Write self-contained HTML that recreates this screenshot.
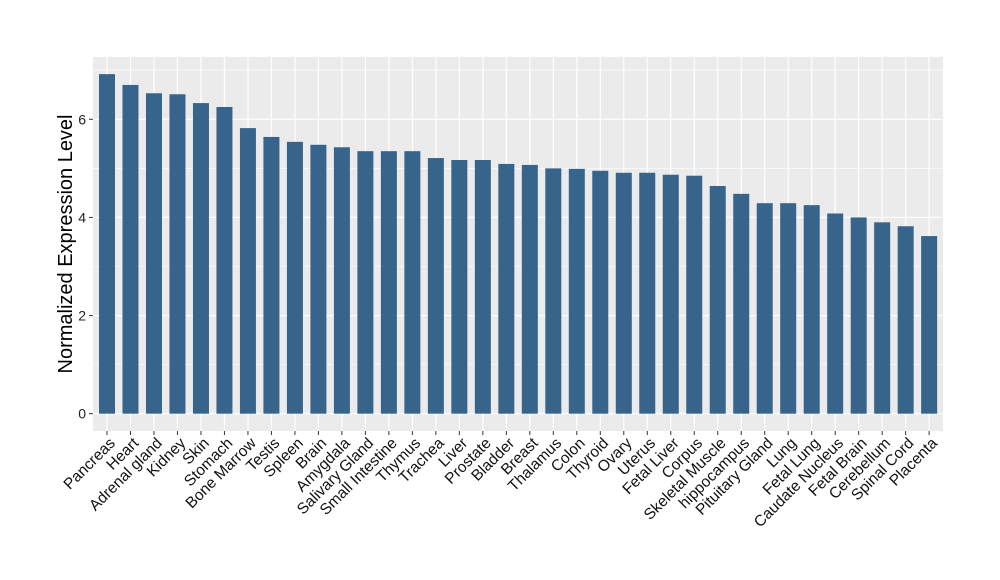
<!DOCTYPE html>
<html><head><meta charset="utf-8"><style>body{margin:0;background:#fff}svg{display:block}</style></head><body>
<svg id="s" width="1000" height="580" xmlns="http://www.w3.org/2000/svg" font-family="Liberation Sans, sans-serif"></svg>
<script>
const names=["Pancreas","Heart","Adrenal gland","Kidney","Skin","Stomach","Bone Marrow","Testis","Spleen","Brain","Amygdala","Salivary Gland","Small Intestine","Thymus","Trachea","Liver","Prostate","Bladder","Breast","Thalamus","Colon","Thyroid","Ovary","Uterus","Fetal Liver","Corpus","Skeletal Muscle","hippocampus","Pituitary Gland","Lung","Fetal Lung","Caudate Nucleus","Fetal Brain","Cerebellum","Spinal Cord","Placenta"];
const vals=[6.92,6.70,6.53,6.51,6.33,6.25,5.82,5.64,5.54,5.48,5.43,5.35,5.35,5.35,5.21,5.17,5.17,5.09,5.07,5.0,4.99,4.95,4.91,4.91,4.87,4.85,4.64,4.48,4.29,4.29,4.25,4.08,4.0,3.90,3.82,3.62];
const L=93,R=943,T=57,B=431,y0=413.7,k=49.07,x0=107,dx=23.49;
let h=`<rect x="${L}" y="${T}" width="${R-L}" height="${B-T}" fill="#ebebeb"/>`;
for(let v=1;v<=7;v+=2){const y=y0-v*k;h+=`<line x1="${L}" x2="${R}" y1="${y}" y2="${y}" stroke="#fff" stroke-width="0.6"/>`;}
for(let v=0;v<=6;v+=2){const y=y0-v*k;h+=`<line x1="${L}" x2="${R}" y1="${y}" y2="${y}" stroke="#fff" stroke-width="1.2"/>`;
h+=`<line x1="${L-4}" x2="${L}" y1="${y}" y2="${y}" stroke="#333" stroke-width="1"/>`;
h+=`<text x="${L-7}" y="${y+5}" font-size="14" text-anchor="end" fill="#222">${v}</text>`;}
names.forEach((n,i)=>{const cx=x0+i*dx;
h+=`<line x1="${cx}" x2="${cx}" y1="${T}" y2="${B}" stroke="#fff" stroke-width="1.2"/>`;});
names.forEach((n,i)=>{const cx=x0+i*dx;const top=y0-vals[i]*k;
h+=`<rect x="${cx-8}" y="${top}" width="16" height="${y0-top}" fill="#36648b"/>`;
h+=`<line x1="${cx}" x2="${cx}" y1="${B}" y2="${B+4}" stroke="#333" stroke-width="1"/>`;
h+=`<text transform="translate(${cx+9},${B+13}) rotate(-45)" font-size="15.5" text-anchor="end" fill="#111">${n}</text>`;});
h+=`<text transform="translate(72,244) rotate(-90)" font-size="20" text-anchor="middle" fill="#000">Normalized Expression Level</text>`;
document.getElementById('s').innerHTML=h;
</script>
</body></html>
